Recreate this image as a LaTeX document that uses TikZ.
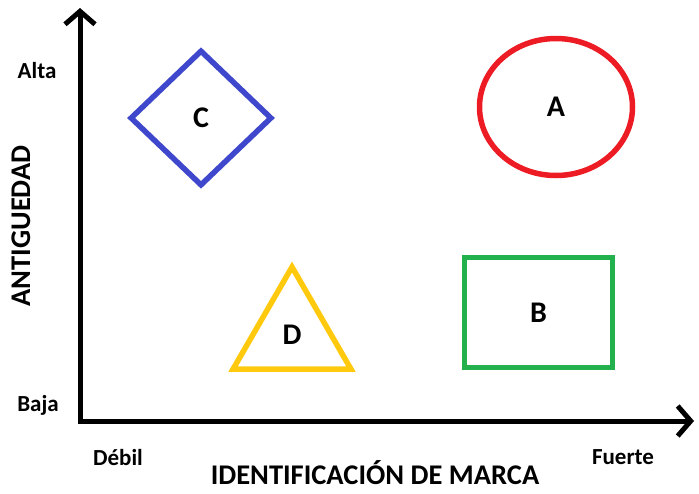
\documentclass[tikz,border=0pt]{standalone}
\usepackage{fontspec}
\setmainfont{Carlito}
\usetikzlibrary{arrows.meta,shapes,positioning}
\definecolor{paintred}{RGB}{237,28,36}
\definecolor{paintgreen}{RGB}{34,177,76}
\definecolor{paintblue}{RGB}{63,72,204}
\definecolor{paintyellow}{RGB}{255,201,14}

\begin{document}
\begin{tikzpicture}[x=1pt, y=-1pt,
    axis/.style={line width=5pt, line cap=round,
        {Straight Barb[length=13pt,width=30pt]}-{Straight Barb[length=13pt,width=30pt]}},
    fig/.style={line width=5.5pt, inner sep=0pt, font=\bfseries\fontsize{30}{34}\selectfont},
    tick/.style={font=\bfseries\fontsize{23}{26}\selectfont},
    title/.style={inner sep=0pt, font=\bfseries\fontsize{28.5}{32}\selectfont}]
    \useasboundingbox (0,0) rectangle (699,493);
    % ejes
    \coordinate (O)    at (80,421);
    \coordinate (Ytip) at (80,8);
    \coordinate (Xtip) at (694,421);
    \draw[axis] (Ytip) -- (O) -- (Xtip);

    % cuadrantes
    \node[fig, draw=paintred, ellipse, minimum width=153, minimum height=137] (A) at (556,107) {A};
    \node[fig, draw=paintgreen, rectangle, minimum width=148, minimum height=110] (B) at (538.5,312.5) {B};
    \node[fig, draw=paintblue, diamond, minimum width=142, minimum height=136] (C) at (201,118) {C};
    \node[fig, draw=paintyellow, regular polygon, regular polygon sides=3, minimum size=136] (D) at (292,335) {D};

    % etiquetas
    \node[tick] (alta)   at (37,71)  {Alta};
    \node[tick] (baja)   at (38,405) {Baja};
    \node[tick] (debil)  at (118,458) {Débil};
    \node[tick] (fuerte) at (623,457) {Fuerte};
    \node[title] (marca) at (375,473) {IDENTIFICACIÓN DE MARCA};
    \node[title, rotate=90] (antig) at (21,226) {ANTIGUEDAD};
\end{tikzpicture}
\end{document}
